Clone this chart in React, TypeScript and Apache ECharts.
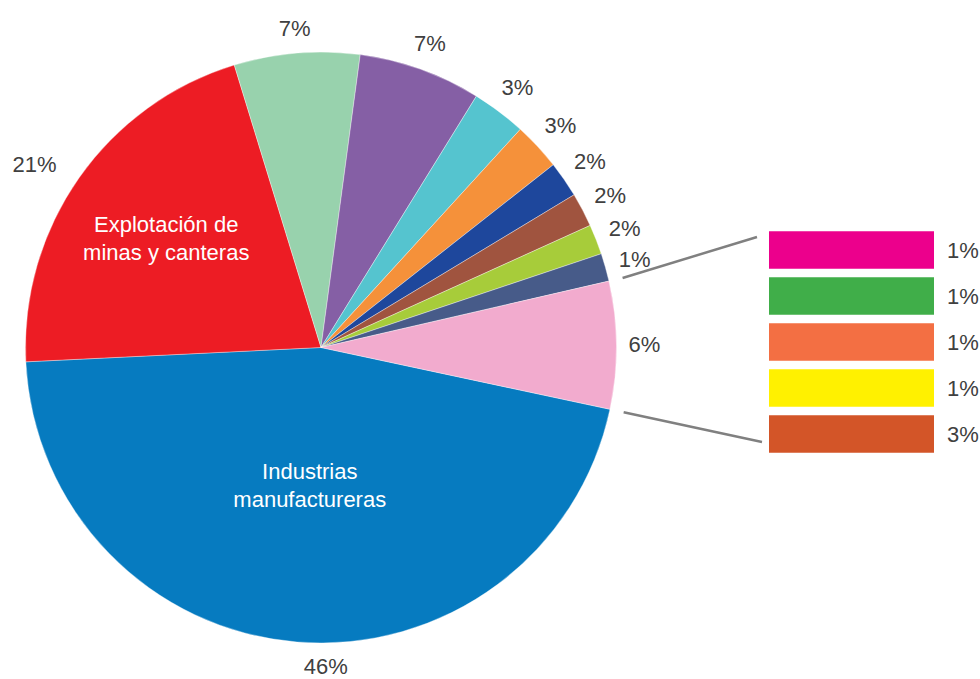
import React, { useEffect, useRef } from 'react';
import * as echarts from 'echarts';

// ---- data ----
const pieNames = [
  'Industrias manufactureras',
  'Explotación de minas y canteras',
  'Sector C',
  'Sector D',
  'Sector E',
  'Sector F',
  'Sector G',
  'Sector H',
  'Sector I',
  'Sector J',
  'Otros',
];
const pieShares = [45.87, 21.03, 6.86, 6.69, 2.97, 2.61, 1.97, 1.86, 1.64, 1.53, 6.96];
const pieLabels = ['46%', '21%', '7%', '7%', '3%', '3%', '2%', '2%', '2%', '1%', '6%'];
const innerLabels = ['Industrias\nmanufactureras', 'Explotación de\nminas y canteras'];

const barCategories = ['Otros 1', 'Otros 2', 'Otros 3', 'Otros 4', 'Otros 5'];
const barShares = [1, 1, 1, 1, 3];
const barLabels = ['1%', '1%', '1%', '1%', '3%'];

// ---- styles / layout ----
const pieColors = [
  '#067BC0', '#ED1C24', '#98D2AD', '#855FA5', '#55C4CF', '#F5913A',
  '#1E479C', '#A0543F', '#A7CC3A', '#475B89', '#F2ABCE',
];
const barColors = ['#EC008C', '#40AE49', '#F36F43', '#FFF100', '#D35528'];

const CX = 321;
const CY = 347.5;
const R = 295.5;
const START = -12.07;
const BAR_LEFT = 769;
const BAR_WIDTH = 165;
const BAR_TOP = 227;
const BAR_HEIGHT = 230;
const FONT = "'Liberation Sans', Arial, sans-serif";
const FS = 22;
const TEXT = '#404040';
const innerRadiusFactor: Record<number, number> = { 0: 0.47, 1: 0.64 };
// best-fit nudges for the outer labels of the two large slices (degrees / px)
const labelAngleNudge: Record<number, number> = { 0: 5.5, 1: 2.5 };
const labelDistNudge: Record<number, number> = { 1: 8 };

export default function App() {
  const ref = useRef<HTMLDivElement>(null);

  useEffect(() => {
    if (!ref.current) return;
    const chart = echarts.init(ref.current, null, { renderer: 'svg' });

    const total = pieShares.reduce((a, b) => a + b, 0);
    const mids: number[] = [];
    const bounds: number[] = [];
    let a = START;
    pieShares.forEach((v) => {
      const s = (v / total) * 360;
      mids.push(a - s / 2);
      a -= s;
      bounds.push(a);
    });
    const rad = (d: number) => (d * Math.PI) / 180;
    const n = pieShares.length;
    const otherStart = rad(bounds[n - 2]);
    const otherEnd = rad(START);
    const lr = R + 14;

    const outerLayout = (p: any) => {
      const i = p.dataIndex;
      const m = rad(mids[i] + (labelAngleNudge[i] ?? 0));
      const c = Math.cos(m);
      const s = Math.sin(m);
      const w = p.labelRect ? p.labelRect.width : 30;
      const h = p.labelRect ? p.labelRect.height : 24;
      const ext = (Math.abs(c) * w) / 2 + (Math.abs(s) * h) / 2;
      const d = R + 12 + ext + (labelDistNudge[i] ?? 0);
      return { x: CX + d * c, y: CY - d * s, align: 'center', verticalAlign: 'middle' };
    };
    const innerLayout = (p: any) => {
      const m = rad(mids[p.dataIndex]);
      const d = R * (innerRadiusFactor[p.dataIndex] ?? 0.5);
      return { x: CX + d * Math.cos(m), y: CY - d * Math.sin(m), align: 'center', verticalAlign: 'middle' };
    };

    chart.setOption({
      animation: false,
      backgroundColor: '#ffffff',
      grid: { left: BAR_LEFT, top: BAR_TOP, width: BAR_WIDTH, height: BAR_HEIGHT },
      xAxis: { type: 'value', min: 0, max: 1, show: false },
      yAxis: { type: 'category', data: barCategories, inverse: true, show: false },
      graphic: [
        {
          type: 'line',
          shape: {
            x1: CX + lr * Math.cos(otherStart),
            y1: CY - lr * Math.sin(otherStart),
            x2: BAR_LEFT - 12,
            y2: BAR_TOP + 10,
          },
          style: { stroke: '#808080', lineWidth: 2.5 },
          silent: true,
        },
        {
          type: 'line',
          shape: {
            x1: CX + lr * Math.cos(otherEnd),
            y1: CY - lr * Math.sin(otherEnd),
            x2: BAR_LEFT - 7,
            y2: BAR_TOP + 215,
          },
          style: { stroke: '#808080', lineWidth: 2.5 },
          silent: true,
        },
      ],
      series: [
        {
          type: 'pie',
          center: [CX, CY],
          radius: R,
          startAngle: 360 + START,
          clockwise: true,
          avoidLabelOverlap: false,
          silent: true,
          itemStyle: { borderColor: 'rgba(255,255,255,0.6)', borderWidth: 0.6 },
          label: {
            show: true,
            position: 'outside',
            formatter: (p: any) => pieLabels[p.dataIndex],
            color: TEXT,
            fontSize: FS,
            fontFamily: FONT,
          },
          labelLine: { show: false },
          labelLayout: outerLayout,
          data: pieShares.map((v, i) => ({
            name: pieNames[i],
            value: v,
            itemStyle: { color: pieColors[i] },
          })),
        },
        {
          type: 'pie',
          center: [CX, CY],
          radius: R,
          startAngle: 360 + START,
          clockwise: true,
          avoidLabelOverlap: false,
          silent: true,
          itemStyle: { color: 'rgba(0,0,0,0)', borderWidth: 0 },
          label: {
            show: true,
            position: 'inside',
            formatter: (p: any) => innerLabels[p.dataIndex] ?? '',
            color: '#ffffff',
            fontSize: FS,
            lineHeight: 28,
            fontFamily: FONT,
            align: 'center',
          },
          labelLine: { show: false },
          labelLayout: innerLayout,
          data: pieShares.map((v, i) => ({
            name: pieNames[i] + ' ',
            value: v,
            label: { show: i < innerLabels.length },
          })),
        },
        {
          type: 'custom',
          silent: true,
          renderItem: (params: any, api: any) => {
            const i = params.dataIndex;
            const p0 = api.coord([0, i]);
            const p1 = api.coord([1, i]);
            const band = api.size([0, 1])[1];
            const h = band * 0.82;
            return {
              type: 'group',
              children: [
                {
                  type: 'rect',
                  shape: { x: p0[0], y: p0[1] - h / 2, width: p1[0] - p0[0], height: h },
                  style: { fill: barColors[i] },
                },
                {
                  type: 'text',
                  x: p1[0] + 13,
                  y: p0[1],
                  style: {
                    text: barLabels[i],
                    fill: TEXT,
                    fontSize: FS,
                    fontFamily: FONT,
                    align: 'left',
                    verticalAlign: 'middle',
                  },
                },
              ],
            };
          },
          data: barShares.map((v, i) => [v, i]),
          encode: { x: 0, y: 1 },
        },
      ],
    });

    return () => chart.dispose();
  }, []);

  return (
    <div
      ref={ref}
      style={{ position: 'fixed', left: 0, top: 0, width: 980, height: 679, background: '#fff' }}
    />
  );
}
